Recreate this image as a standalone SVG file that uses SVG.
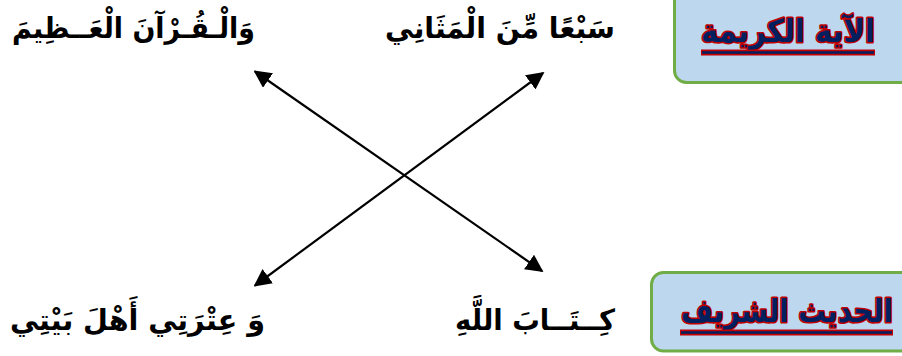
<svg xmlns="http://www.w3.org/2000/svg" width="902" height="356" viewBox="0 0 902 356">
<style>
.box{fill:#BDD7EE;stroke:#70AD47;stroke-width:3}
.title{font-family:"DejaVu Sans","Noto Sans",sans-serif;font-weight:bold;font-size:32px;fill:#002060;stroke:#C00000;stroke-width:3;paint-order:stroke;stroke-linejoin:round}
.ul{stroke:#C00000;stroke-width:6;stroke-linecap:butt}
.ul2{stroke:#002060;stroke-width:2.5}
.ar{font-family:"DejaVu Sans","Noto Sans",sans-serif;font-weight:bold;font-size:29px;fill:#000}
.conn{stroke:#000;stroke-width:2.2;fill:none}
</style>
<defs>
<marker id="ah" viewBox="0 0 10 10" refX="9" refY="5" markerWidth="8" markerHeight="8" orient="auto-start-reverse" markerUnits="strokeWidth">
<path d="M0,0 L10,5 L0,10 Z" fill="#000"/>
</marker>
</defs>
<g id="box-ayah">
<rect class="box" x="674.5" y="-15" width="240" height="97.5" rx="12"/>
<text class="title" x="875" y="42" direction="rtl" text-anchor="start" textLength="174" lengthAdjust="spacingAndGlyphs">الآية الكريمة</text>
<line class="ul" x1="701" y1="52.5" x2="875" y2="52.5"/>
<line class="ul2" x1="702" y1="52.5" x2="874" y2="52.5"/>
</g>
<g id="box-hadith">
<rect class="box" x="651.5" y="272.5" width="270" height="78.5" rx="12"/>
<text class="title" x="893" y="322" direction="rtl" text-anchor="start" textLength="212" lengthAdjust="spacingAndGlyphs">الحديث الشريف</text>
<line class="ul" x1="680" y1="332.5" x2="893" y2="332.5"/>
<line class="ul2" x1="681" y1="332.5" x2="892" y2="332.5"/>
</g>
<g id="t-quran"><text class="ar" x="255" y="38" direction="rtl" text-anchor="start" textLength="243" lengthAdjust="spacingAndGlyphs">وَالْـقُـرْآنَ الْعَــظِيمَ</text></g>
<g id="t-sabaa"><text class="ar" x="615" y="38" direction="rtl" text-anchor="start" textLength="230" lengthAdjust="spacingAndGlyphs">سَبْعًا مِّنَ الْمَثَانِي</text></g>
<g id="t-itrati"><text class="ar" x="265" y="330" direction="rtl" text-anchor="start" textLength="255" lengthAdjust="spacingAndGlyphs">وَ عِتْرَتِي أَهْلَ بَيْتِي</text></g>
<g id="t-kitab"><text class="ar" x="615" y="330" direction="rtl" text-anchor="start" textLength="160" lengthAdjust="spacingAndGlyphs">كِــتَــابَ اللَّهِ</text></g>
<g id="connectors">
<line class="conn" x1="255" y1="71.5" x2="542" y2="271" marker-start="url(#ah)" marker-end="url(#ah)"/>
<line class="conn" x1="543" y1="73" x2="255" y2="285.5" marker-start="url(#ah)" marker-end="url(#ah)"/>
</g>
</svg>
